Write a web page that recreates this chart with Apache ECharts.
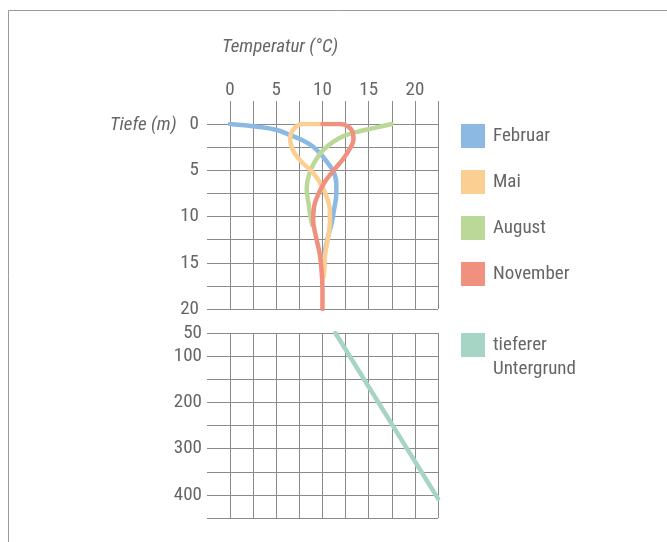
<!DOCTYPE html>
<html><head><meta charset="utf-8">
<script src="https://cdn.jsdelivr.net/npm/echarts@6/dist/echarts.min.js"></script>
<style>html,body{margin:0;padding:0;background:#fff}#c{width:667px;height:542px}</style>
</head><body><div id="c"></div>
<script>
// Temperature (°C) vs depth (m)
const tempTicks = [0, 5, 10, 15, 20];
const depthTicksTop = [0, 5, 10, 15, 20];
const depthTicksBottom = [50, 100, 200, 300, 400];

const februar = [[0,0],[2.9,0.29],[5.05,0.65],[6.5,1.19],[7.94,1.8],[9.0,2.45],[9.9,3.35],[10.6,4.25],[11.2,5.15],[11.5,6.4],[11.5,7.5],[11.25,9.3],[11.0,10.7],[10.6,12.2],[10.3,13.6],[10.1,15.1],[10.0,16]];
const mai = [[10,0],[7.94,0],[7.2,0.22],[6.7,0.83],[6.5,1.55],[6.6,2.27],[7.0,3.2],[7.9,4.25],[9.0,5.3],[9.9,6.6],[10.5,8.0],[10.8,9.3],[10.8,10.7],[10.6,12.4],[10.3,14],[10.2,15.8],[10.1,16.6]];
const august = [[17.5,0],[15.9,0.36],[14.1,0.76],[12.4,1.26],[11.2,1.9],[10.1,2.8],[9.4,3.7],[8.8,4.8],[8.4,6.05],[8.3,7.1],[8.5,8.6],[8.7,10.0],[8.9,10.9]];
const november = [[10,0],[11.9,0],[12.8,0.29],[13.3,1.0],[13.35,1.73],[13.0,2.6],[12.3,3.7],[11.4,4.8],[10.3,6.2],[9.6,7.5],[9.1,8.9],[9.0,10.4],[9.3,12.2],[9.7,14],[9.9,15.8],[10,17.8],[10,20]];
const untergrund = [[11.4,50],[22.5,408]];

const names = ['Februar','Mai','August','November','tieferer Untergrund'];
const colors = ['#8bb9e4','#fbcf91','#bcd898','#f0907e','#a6d5c5'];

const FONT = "'Liberation Sans Narrow', 'Roboto Condensed', 'Arial Narrow', Roboto, sans-serif";
const GRID_COLOR = '#8a8a8a';
const TEXT_COLOR = '#666';

const chart = echarts.init(document.getElementById('c'), null, {renderer:'canvas'});

function lineSeries(name, data, color, xi, yi, z) {
  return {name, type:'line', data, xAxisIndex:xi, yAxisIndex:yi, smooth:0.4, showSymbol:false, symbol:'none',
    lineStyle:{color, width:4.5, cap:'round'}, itemStyle:{color}, z, clip:true, animation:false};
}

const axisLabelStyle = {color:TEXT_COLOR, fontFamily:FONT, fontSize:19};

chart.setOption({
  animation:false,
  graphic:[
    {type:'line', shape:{x1:8.5,y1:10.5,x2:667,y2:10.5}, style:{stroke:'#999',lineWidth:1}},
    {type:'line', shape:{x1:8.5,y1:10.5,x2:8.5,y2:542}, style:{stroke:'#999',lineWidth:1}},
    {type:'text', left:222, top:38, style:{text:'Temperatur (°C)', fill:TEXT_COLOR, font:"italic 19px " + FONT}},
    {type:'text', left:110, top:116, style:{text:'Tiefe (m)', fill:TEXT_COLOR, font:"italic 19px " + FONT}}
  ],
  grid:[
    {left:230, top:124, width:208, height:185},
    {left:230, top:333, width:208, height:185}
  ],
  xAxis:[
    {type:'value', gridIndex:0, position:'top', min:0, max:22.5, interval:2.5,
      axisLine:{show:false}, axisTick:{show:true, length:23, lineStyle:{color:GRID_COLOR}},
      splitLine:{show:true, lineStyle:{color:GRID_COLOR, width:1}},
      axisLabel:Object.assign({margin:24, formatter:v => tempTicks.includes(v) ? String(v) : ''}, axisLabelStyle)},
    {type:'value', gridIndex:1, position:'bottom', min:0, max:22.5, interval:2.5,
      axisLine:{show:false}, axisTick:{show:false}, axisLabel:{show:false},
      splitLine:{show:true, lineStyle:{color:GRID_COLOR, width:1}}}
  ],
  yAxis:[
    {type:'value', gridIndex:0, inverse:true, min:0, max:20, interval:2.5,
      axisLine:{show:false}, axisTick:{show:true, length:23, lineStyle:{color:GRID_COLOR}},
      splitLine:{show:true, lineStyle:{color:GRID_COLOR, width:1}},
      axisLabel:Object.assign({margin:31, formatter:v => depthTicksTop.includes(v) ? String(v) : ''}, axisLabelStyle)},
    {type:'value', gridIndex:1, inverse:true, min:50, max:450, interval:50,
      axisLine:{show:false}, axisTick:{show:true, length:23, lineStyle:{color:GRID_COLOR}},
      splitLine:{show:true, lineStyle:{color:GRID_COLOR, width:1}},
      axisLabel:Object.assign({margin:28, formatter:v => depthTicksBottom.includes(v) ? String(v) : ''}, axisLabelStyle)}
  ],
  legend:[
    {data:names.slice(0,4), orient:'vertical', left:461, top:124, padding:0, itemWidth:24, itemHeight:24, itemGap:22,
      icon:'rect', selectedMode:false, textStyle:{color:TEXT_COLOR, fontFamily:FONT, fontSize:19, padding:[0,0,0,3]}},
    {data:[names[4]], orient:'vertical', left:461, top:309, padding:0, itemWidth:24, itemHeight:24, icon:'rect', selectedMode:false,
      formatter:() => '\ntieferer\nUntergrund',
      textStyle:{color:TEXT_COLOR, fontFamily:FONT, fontSize:19, lineHeight:24, padding:[0,0,0,3]}}
  ],
  series:[
    lineSeries(names[0], februar, colors[0], 0, 0, 2),
    lineSeries(names[2], august, colors[2], 0, 0, 3),
    lineSeries(names[1], mai, colors[1], 0, 0, 4),
    lineSeries(names[3], november, colors[3], 0, 0, 5),
    lineSeries(names[4], untergrund, colors[4], 1, 1, 2)
  ]
});
</script></body></html>
